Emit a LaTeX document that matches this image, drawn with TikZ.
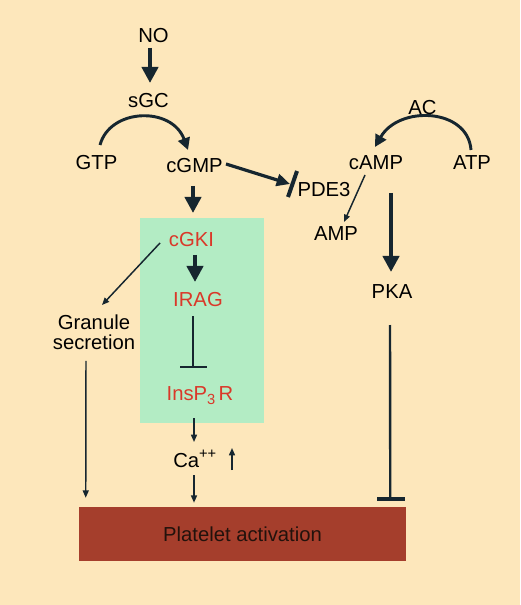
\documentclass[tikz,border=0pt]{standalone}
\usepackage{fontspec}
\setmainfont{Liberation Sans}
\usetikzlibrary{arrows.meta,calc}
\definecolor{bgc}{HTML}{FDE7BB}
\definecolor{boxg}{HTML}{B3ECC4}
\definecolor{redt}{HTML}{DA3829}
\definecolor{platc}{HTML}{A53E2C}
\definecolor{ink}{HTML}{16262F}
\definecolor{plattext}{HTML}{22120C}
\begin{document}
\begin{tikzpicture}[x=0.75pt,y=-0.75pt,
  lbl/.style={inner sep=0pt,anchor=base,font=\fontsize{15.2}{14.6}\selectfont,text=black},
  redlbl/.style={lbl,text=redt},
  bigarrow/.style={draw=ink,line width=3pt,-{Triangle[length=12pt,width=12pt]}},
  midarrow/.style={draw=ink,line width=2.4pt,-{Triangle[length=10pt,width=9pt]}},
  arcarrow/.style={draw=ink,line width=2.2pt,-{Triangle[length=9pt,width=9pt]}},
  thinarrow/.style={draw=ink,line width=1.1pt,-{Triangle[length=5.5pt,width=4.5pt]}},
  inhline/.style={draw=ink,line width=1.2pt},
  inhbar/.style={draw=ink,line width=1.6pt},
  pkaline/.style={draw=ink,line width=1.8pt},
  pkabar/.style={draw=ink,line width=3pt},
  pdebar/.style={draw=ink,line width=3pt}
]
% background and boxes
\fill[bgc] (0,0) rectangle (520,605);
\useasboundingbox (0,0) rectangle (520,605);
\fill[boxg] (140,218) rectangle (264,423);
\node[fill=platc,minimum width=245.25pt,minimum height=40.5pt,inner sep=0pt,
      text=plattext,font=\fontsize{15.2}{17}\selectfont] (plat) at (242.5,534) {Platelet activation};

% labels
\node[lbl] (NO)   at (153.5,43)  {NO};
\node[lbl] (sGC)  at (148.5,108) {sGC};
\node[lbl] (GTP)  at (96.5,170)  {GTP};
\node[lbl] (cGMP) at (194.5,173) {cGMP};
\node[lbl] (PDE3) at (324,197)   {PDE3};
\node[lbl] (AC)   at (422.5,115) {AC};
\node[lbl] (cAMP) at (376,170)   {cAMP};
\node[lbl] (ATP)  at (472,170)   {ATP};
\node[lbl] (AMP)  at (336,241)   {AMP};
\node[lbl] (PKA)  at (392,298)   {PKA};
\node[redlbl] (cGKI) at (191.5,247) {cGKI};
\node[redlbl] (IRAG) at (198,306)   {IRAG};
\node[redlbl] (InsP) at (200,400)   {InsP\raisebox{-0.2em}{\fontsize{11}{11}\selectfont 3}\,R};
\node[lbl,anchor=base west] (Ca) at (173,467) {Ca\raisebox{0.42em}{\fontsize{11}{11}\selectfont ++}};
\node[lbl,anchor=north,align=center] (gran) at (94,315) {Granule\\secretion};

\coordinate (up1) at ($(Ca.base west)+(59,3)$);
\coordinate (up2) at ($(Ca.base west)+(59,-19)$);

% connectors
\draw[bigarrow] ($(NO.base)+(-3.5,5)$) -- ($(sGC.base)+(1.5,-25)$);
\draw[arcarrow] ($(GTP.base)+(3.5,-25)$) .. controls +(10,-37) and +(-16,-44) .. ($(cGMP.base)+(-6.5,-23)$);
\draw[midarrow] ($(cGMP.base)+(31.5,-9)$) -- ($(PDE3.base)+(-34,-13)$);
\draw[pdebar] ($(PDE3.base)+(-27,-26)$) -- ($(PDE3.base)+(-36,0)$);
\draw[bigarrow] ($(cGMP.base)+(-1.5,13)$) -- ($(cGKI.base)+(1.5,-34)$);
\draw[bigarrow] ($(cGKI.base)+(3.5,8)$) -- ($(IRAG.base)+(-3,-24)$);
\draw[inhline] ($(IRAG.base)+(-5,10)$) -- ($(InsP.base)+(-7,-33)$);
\draw[inhbar] ($(InsP.base)+(-20,-33)$) -- ($(InsP.base)+(7,-33)$);
\draw[thinarrow] ($(InsP.base)+(-6,18)$) -- ($(Ca.base west)+(21,-25)$);
\draw[thinarrow] ($(Ca.base west)+(21,8)$) -- ($(plat.north)+(-48.5,-4)$);
\draw[thinarrow] (up1) -- (up2);
\draw[thinarrow] ($(cGKI.base)+(-31.5,-4)$) -- ($(gran.north)+(8,-10)$);
\draw[thinarrow] ($(gran.south)+(-8,11)$) -- ($(plat.north west)+(7,-9)$);
\draw[arcarrow] ($(ATP.base)+(-1,-20)$) .. controls +(-3,-42) and +(24,-42) .. ($(cAMP.base)+(-1,-23)$);
\draw[thinarrow] ($(cAMP.base)+(-11,5)$) -- ($(AMP.base)+(8,-19)$);
\draw[bigarrow] ($(cAMP.base)+(15,23)$) -- ($(PKA.base)+(-1,-26)$);
\draw[pkaline] ($(PKA.base)+(-2,27)$) -- ($(plat.north east)+(-16,-8)$);
\draw[pkabar] ($(plat.north east)+(-29,-8)$) -- ($(plat.north east)+(-1,-8)$);
\end{tikzpicture}
\end{document}
